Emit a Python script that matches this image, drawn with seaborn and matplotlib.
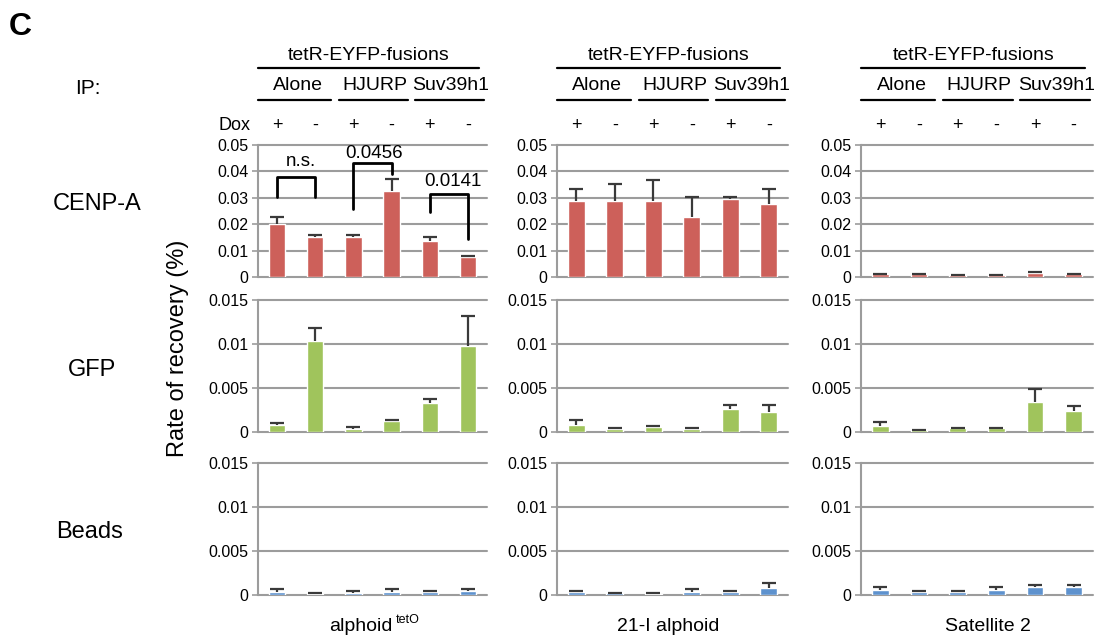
import numpy as np
import pandas as pd
import matplotlib
matplotlib.use("Agg")
import matplotlib.pyplot as plt
import seaborn as sns

# Categorias
conditions = ["Alone +", "Alone -", "HJURP +", "HJURP -", "Suv39h1 +", "Suv39h1 -"]
dox = ["+", "-", "+", "-", "+", "-"]
fusions = ["Alone", "HJURP", "Suv39h1"]
ips = ["CENP-A", "GFP", "Beads"]
loci = ["alphoid", "21-I alphoid", "Satellite 2"]

# CENP-A IP
cenpa_alphoid = [0.0200, 0.0152, 0.0152, 0.0327, 0.0135, 0.0075]
cenpa_alphoid_err = [0.0028, 0.0007, 0.0007, 0.0043, 0.0017, 0.0003]
cenpa_21i = [0.0287, 0.0287, 0.0287, 0.0228, 0.0295, 0.0278]
cenpa_21i_err = [0.0045, 0.0064, 0.0079, 0.0076, 0.0009, 0.0054]
cenpa_sat2 = [0.0010, 0.0010, 0.0007, 0.0007, 0.0017, 0.0010]
cenpa_sat2_err = [0.0002, 0.0001, 0.0001, 0.0001, 0.0003, 0.0001]

# GFP IP
gfp_alphoid = [0.00077, 0.0103, 0.0003, 0.00123, 0.00327, 0.0098]
gfp_alphoid_err = [0.00027, 0.0015, 0.00024, 0.0001, 0.0005, 0.0034]
gfp_21i = [0.00084, 0.00038, 0.0006, 0.00038, 0.0026, 0.0023]
gfp_21i_err = [0.0005, 0.00005, 0.00005, 0.00005, 0.0005, 0.0008]
gfp_sat2 = [0.00068, 0.0002, 0.00046, 0.00046, 0.0034, 0.0024]
gfp_sat2_err = [0.0005, 0.00005, 0.00005, 0.00005, 0.0015, 0.0005]

# Beads
beads_alphoid = [0.00034, 0.00015, 0.0002, 0.00034, 0.0003, 0.0005]
beads_alphoid_err = [0.00034, 0.00005, 0.0002, 0.00034, 0.0001, 0.0002]
beads_21i = [0.00034, 0.0002, 0.00015, 0.00034, 0.00034, 0.00085]
beads_21i_err = [0.00006, 0.00003, 0.00003, 0.00036, 0.00006, 0.00055]
beads_sat2 = [0.0006, 0.00034, 0.00034, 0.0006, 0.00087, 0.00087]
beads_sat2_err = [0.00035, 0.00006, 0.00006, 0.0003, 0.00023, 0.00023]

# Eixos y
cenpa_ticks = [0, 0.01, 0.02, 0.03, 0.04, 0.05]
cenpa_ticklabels = ["0", "0.01", "0.02", "0.03", "0.04", "0.05"]
small_ticks = [0, 0.005, 0.01, 0.015]
small_ticklabels = ["0", "0.005", "0.01", "0.015"]

# Testes estatisticos (barra esquerda, barra direita, perna esq., perna dir., topo, texto)
bracket_left = [0, 2, 4]
bracket_right = [1, 3, 5]
bracket_low_left = [0.0302, 0.0258, 0.0245]
bracket_low_right = [0.0302, 0.0392, 0.0143]
bracket_top = [0.0379, 0.0430, 0.0315]
bracket_text = ["n.s.", "0.0456", "0.0141"]
bracket_text_x = [0.62, 2.55, 4.6]
bracket_text_y = [0.0436, 0.0468, 0.0360]

values = [[cenpa_alphoid, cenpa_21i, cenpa_sat2],
          [gfp_alphoid, gfp_21i, gfp_sat2],
          [beads_alphoid, beads_21i, beads_sat2]]
errors = [[cenpa_alphoid_err, cenpa_21i_err, cenpa_sat2_err],
          [gfp_alphoid_err, gfp_21i_err, gfp_sat2_err],
          [beads_alphoid_err, beads_21i_err, beads_sat2_err]]
colors = ["#CD605A", "#A0C45C", "#5E92CE"]
grid_color = "#9c9c9c"

sns.set_style("white")
plt.rcParams['font.family'] = ['Liberation Sans', 'DejaVu Sans']
plt.rcParams['text.color'] = 'black'
plt.rcParams['ytick.labelcolor'] = 'black'

W, H = 1104, 641
fig = plt.figure(figsize=(W / 100, H / 100), dpi=100)

lefts = [258, 557, 861]
widths = [229, 231, 232]
tops = [145, 300, 463]
ax_h = 132

axes = {}
for r in range(3):
    for c in range(3):
        ax = fig.add_axes([lefts[c] / W, 1 - (tops[r] + ax_h) / H, widths[c] / W, ax_h / H])
        axes[(r, c)] = ax
        df = pd.DataFrame({"cond": conditions, "val": values[r][c]})
        sns.barplot(data=df, x="cond", y="val", color=colors[r], width=0.43,
                    saturation=1, errorbar=None, ax=ax, zorder=3)
        eb = ax.errorbar(range(6), values[r][c], yerr=[np.zeros(6), errors[r][c]],
                         fmt="none", ecolor="#3a3a3a", elinewidth=1.6, capsize=5,
                         capthick=1.6, zorder=4)
        eb[1][0].set_visible(False)  # so o limite superior

        ax.set_xlim(-0.5, 5.5)
        if r == 0:
            ax.set_ylim(0, 0.05)
            ax.set_yticks(cenpa_ticks)
            ax.set_yticklabels(cenpa_ticklabels)
        else:
            ax.set_ylim(0, 0.015)
            ax.set_yticks(small_ticks)
            ax.set_yticklabels(small_ticklabels)
        ax.set_xlabel("")
        ax.set_ylabel("")
        ax.set_xticks([])
        ax.grid(axis="y", color=grid_color, lw=1.5)
        for gl in ax.get_ygridlines():
            gl.set_clip_on(False)
        ax.set_axisbelow(True)
        for s in ["top", "right", "bottom"]:
            ax.spines[s].set_visible(False)
        ax.spines["left"].set_color(grid_color)
        ax.spines["left"].set_linewidth(1.5)
        ax.tick_params(axis="y", length=4, width=1.2, color=grid_color,
                       labelsize=11.5, pad=3, left=True, labelcolor="black")

# Cabecalho de cada coluna
for c in range(3):
    ax = axes[(0, c)]
    tr = ax.get_xaxis_transform()
    for i, s in enumerate(dox):
        ax.text(i, 1.15, s, transform=tr, ha="center", va="center", fontsize=13)
    for g, name in enumerate(fusions):
        ax.text(2 * g + 0.55, 1.45, name, transform=tr, ha="center", va="center", fontsize=14)
        x0 = -0.5 if g == 0 else 2 * g - 0.38
        ax.plot([x0, 2 * g + 1.42], [1.34, 1.34], transform=tr, color="black",
                lw=1.6, clip_on=False)
    ax.text(2.4, 1.68, "tetR-EYFP-fusions", transform=tr, ha="center", va="center", fontsize=14)
    ax.plot([-0.5, 5.3], [1.58, 1.58], transform=tr, color="black", lw=1.6, clip_on=False)
axes[(0, 0)].text(-0.7, 1.15, "Dox", transform=axes[(0, 0)].get_xaxis_transform(),
                  ha="right", va="center", fontsize=13)

# Colchetes de significancia
ax = axes[(0, 0)]
for i in range(3):
    xl, xr = bracket_left[i], bracket_right[i]
    ax.plot([xl, xl, xr, xr],
            [bracket_low_left[i], bracket_top[i], bracket_top[i], bracket_low_right[i]],
            color="black", lw=2, clip_on=False, zorder=5)
    ax.text(bracket_text_x[i], bracket_text_y[i], bracket_text[i], ha="center",
            va="center", fontsize=13.5)

# Rotulos inferiores
label_x = [3.03, 2.38, 2.79]
for c in range(3):
    ax = axes[(2, c)]
    tr = ax.get_xaxis_transform()
    if c == 0:
        ax.text(label_x[c], -0.24, loci[c], transform=tr, ha="right", va="center", fontsize=14)
        ax.text(label_x[c] + 0.08, -0.19, "tetO", transform=tr, ha="left", va="center", fontsize=9)
    else:
        ax.text(label_x[c], -0.24, loci[c], transform=tr, ha="center", va="center", fontsize=14)

# Rotulos das linhas e textos gerais
row_y = [204, 370, 532]
row_x = [97, 92, 90]
for r, name in enumerate(ips):
    fig.text(row_x[r] / W, 1 - row_y[r] / H, name, ha="center", va="center", fontsize=17)
fig.text(75 / W, 1 - 88 / H, "IP:", ha="left", va="center", fontsize=15)
fig.text(9 / W, 1 - 27 / H, "C", ha="left", va="center", fontsize=23, fontweight="bold")
fig.text(178 / W, 1 - 348 / H, "Rate of recovery (%)", rotation=90, ha="center",
         va="center", fontsize=17)

fig.savefig("out.png", dpi=100)
